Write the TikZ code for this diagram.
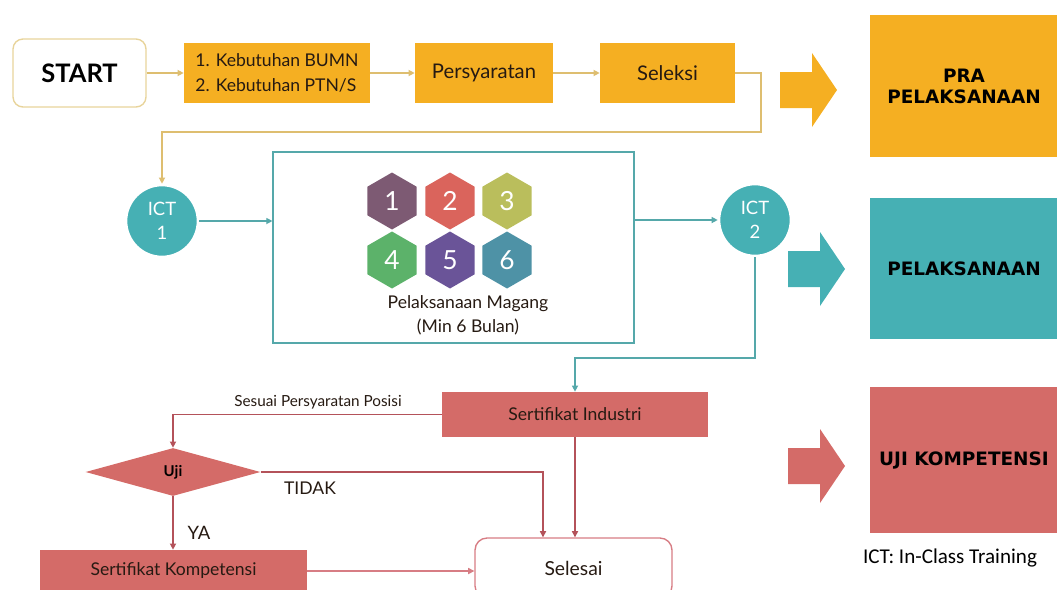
\documentclass[tikz,border=0pt]{standalone}
\usepackage{fontspec}
\setmainfont{Lato}
\newfontfamily\phasefont{DejaVu Sans}
\newfontfamily\notefont{Carlito}
\usetikzlibrary{shapes.geometric,arrows.meta}

\definecolor{praorange}{RGB}{245,175,34}
\definecolor{ictteal}{RGB}{70,176,180}
\definecolor{ujired}{RGB}{212,107,104}
\definecolor{startline}{RGB}{232,212,155}
\definecolor{goldline}{RGB}{222,190,112}
\definecolor{tealline}{RGB}{85,168,170}
\definecolor{redline}{RGB}{180,82,90}
\definecolor{pinkline}{RGB}{215,125,132}
\definecolor{textdark}{RGB}{38,26,18}
\definecolor{hexone}{RGB}{125,90,115}
\definecolor{hextwo}{RGB}{218,100,92}
\definecolor{hexthree}{RGB}{186,190,92}
\definecolor{hexfour}{RGB}{92,178,106}
\definecolor{hexfive}{RGB}{106,84,152}
\definecolor{hexsix}{RGB}{78,146,166}

\tikzset{
  startbox/.style={rectangle, rounded corners=0.2cm, draw=startline, line width=0.8pt,
    minimum width=2.66cm, minimum height=1.36cm, font=\fontsize{14.5}{16}\selectfont\bfseries},
  prabox/.style={rectangle, fill=praorange, minimum height=1.2cm, text=textdark,
    font=\fontsize{11.5}{14}\selectfont},
  ictcircle/.style={circle, fill=ictteal, draw=white, line width=1.5pt, minimum size=1.44cm,
    inner sep=0pt, text=white, align=center, font=\fontsize{10.5}{14}\selectfont},
  hexcell/.style={regular polygon, regular polygon sides=6, shape border rotate=30,
    minimum size=1.14cm, inner sep=0pt, fill=#1, text=white, font=\fontsize{15}{17}\selectfont},
  ujibox/.style={rectangle, fill=ujired, text=textdark, font=\fontsize{10}{12}\selectfont},
  phasebox/.style={rectangle, fill=#1, minimum width=3.76cm, align=center,
    font=\fontsize{10.5}{12}\selectfont\phasefont\bfseries},
  goldarrow/.style={->, draw=goldline, line width=0.7pt},
  tealarrow/.style={->, draw=tealline, line width=0.7pt},
  redarrow/.style={->, draw=redline, line width=0.7pt},
  smalllabel/.style={text=textdark, font=\fontsize{8.7}{10}\selectfont}
}

\begin{document}
\begin{tikzpicture}[x=0.02cm, y=-0.02cm, >={Triangle[length=3.5pt,width=3.5pt]}]
  \useasboundingbox (0,0) rectangle (1057,589);

  % Pra pelaksanaan row
  \node[startbox] (start) at (79.5,73) {START};
  \node[prabox, minimum width=3.72cm, align=left, font=\fontsize{10}{14}\selectfont] (kebutuhan) at (277,73)
    {1. Kebutuhan BUMN\\2. Kebutuhan PTN/S};
  \node[prabox, minimum width=2.76cm] (persyaratan) at (484,73) {Persyaratan};
  \node[prabox, minimum width=2.7cm] (seleksi) at (667.5,73) {Seleksi};

  \draw[goldarrow] (start) -- (kebutuhan);
  \draw[goldarrow] (kebutuhan) -- (persyaratan);
  \draw[goldarrow] (persyaratan) -- (seleksi);

  % Pelaksanaan magang
  \node[ictcircle] (ict1) at (162,221) {ICT\\1};
  \node[ictcircle] (ict2) at (755,220) {ICT\\2};
  \node[rectangle, draw=tealline, line width=0.7pt, minimum width=7.22cm, minimum height=3.82cm]
    (magang) at (453.5,247.5) {};

  \foreach \hx/\hy/\hnum/\hcol in {392/201/1/hexone, 450/201/2/hextwo, 507/201/3/hexthree,
      392/260/4/hexfour, 450/260/5/hexfive, 507/260/6/hexsix}
    \node[hexcell=\hcol] (hex\hnum) at (\hx,\hy) {\hnum};

  \node[align=center, text=textdark, font=\fontsize{10}{13.5}\selectfont] (magangtext) at (468,315)
    {Pelaksanaan Magang\\(Min 6 Bulan)};

  \coordinate (seleksibend) at (761,132);
  \draw[goldarrow] (seleksi.east) -| (seleksibend) -| (ict1.north);
  \draw[tealarrow] (ict1.east) -- (ict1.east -| magang.west);
  \draw[tealarrow] (ict2.west -| magang.east) -- (ict2.west);

  % Uji kompetensi
  \node[ujibox, minimum width=5.32cm, minimum height=0.9cm] (industri) at (575,414.5) {Sertifikat Industri};
  \node[diamond, fill=ujired, minimum width=3.5cm, minimum height=0.96cm, inner sep=0pt,
    font=\fontsize{8.5}{10}\selectfont\bfseries] (uji) at (173,472) {Uji};
  \node[ujibox, minimum width=5.34cm, minimum height=0.84cm] (kompetensi) at (173.5,571) {Sertifikat Kompetensi};
  \node[rectangle, rounded corners=0.24cm, draw=pinkline, line width=0.8pt, minimum width=3.94cm,
    minimum height=1.2cm, text=textdark, font=\fontsize{11}{13}\selectfont] (selesai) at (573.5,568) {Selesai};

  \coordinate (ictdrop) at (755,358);
  \coordinate (tidakdrop) at (543,472);
  \draw[tealarrow] (ict2.south) -- (ictdrop) -| (industri.north);
  \draw[redarrow] (industri.west) -| (uji.north);
  \draw[redarrow] (uji.east) -- (tidakdrop) -- (tidakdrop |- selesai.north);
  \draw[redarrow] (industri.south) -- (industri.south |- selesai.north);
  \draw[redarrow] (uji.south) -- (uji.south |- kompetensi.north);
  \draw[->, draw=pinkline, line width=0.7pt] (kompetensi.east) -- (kompetensi.east -| selesai.west);

  \node[smalllabel] (sesuai) at (318,402) {Sesuai Persyaratan Posisi};
  \node[text=textdark, font=\fontsize{10}{12}\selectfont] (tidak) at (310,488) {TIDAK};
  \node[text=textdark, font=\fontsize{10.5}{12}\selectfont] (ya) at (199,533) {YA};

  % Phases on the right
  \foreach \ax/\ay/\acol in {780/90/praorange, 788/269/ictteal, 788/466/ujired}
    \fill[\acol] (\ax,{\ay-18}) -- ({\ax+32},{\ay-18}) -- ({\ax+32},{\ay-37}) -- ({\ax+57},\ay)
      -- ({\ax+32},{\ay+37}) -- ({\ax+32},{\ay+18}) -- (\ax,{\ay+18}) -- cycle;

  \node[phasebox=praorange, minimum height=2.84cm] (prapelaksanaan) at (964,86) {PRA\\PELAKSANAAN};
  \node[phasebox=ictteal, minimum height=2.82cm] (pelaksanaan) at (964,268.5) {PELAKSANAAN};
  \node[phasebox=ujired, minimum height=2.92cm] (ujikompetensi) at (964,460) {UJI KOMPETENSI};
  \node[font=\fontsize{12}{14}\selectfont\notefont] (ictnote) at (950,558) {ICT: In-Class Training};
\end{tikzpicture}
\end{document}
